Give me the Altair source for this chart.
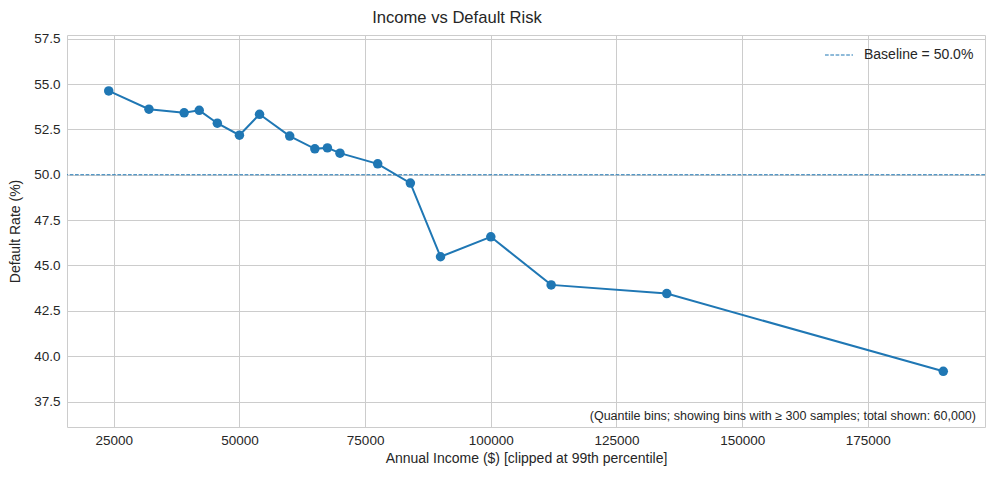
import altair as alt
import pandas as pd

income = [24000, 32000, 39000, 42000, 45600, 50000, 54000, 60000, 65000, 67500,
          70000, 77500, 84000, 90000, 100000, 112000, 135000, 190000]
default_rate = [54.62, 53.61, 53.41, 53.55, 52.84, 52.18, 53.33, 52.13, 51.43, 51.48,
                51.19, 50.60, 49.54, 45.48, 46.58, 43.93, 43.45, 39.17]
baseline = [50.0]
baseline_label = ["Baseline = 50.0%"]
x_ticks = [25000, 50000, 75000, 100000, 125000, 150000, 175000]
y_ticks = [37.5, 40.0, 42.5, 45.0, 47.5, 50.0, 52.5, 55.0, 57.5]
note = "(Quantile bins; showing bins with \u2265 300 samples; total shown: 60,000)"

W, H = 918, 392
BLUE = "#1f77b4"
TXT = "#262626"
FONT = "Liberation Sans"

df = pd.DataFrame({"income": income, "rate": default_rate})
bdf = pd.DataFrame({"y": baseline, "label": baseline_label})

xs = alt.Scale(domain=[15700, 198300], nice=False, zero=False)
ys = alt.Scale(domain=[36.1, 57.7], nice=False, zero=False)

xaxis = alt.Axis(values=x_ticks, format="d", title="Annual Income ($) [clipped at 99th percentile]",
                 grid=True, ticks=False, domain=False, labelPadding=6, titlePadding=5)
yaxis = alt.Axis(values=y_ticks, format=".1f", title="Default Rate (%)",
                 grid=True, ticks=False, domain=False, labelPadding=7, titlePadding=11)

rule = alt.Chart(bdf).mark_rule(strokeDash=[3.7, 1.6], strokeWidth=1.2).encode(
    y=alt.Y("y:Q", scale=ys, axis=yaxis),
    color=alt.Color("label:N", scale=alt.Scale(range=[BLUE]),
                    legend=alt.Legend(title=None, orient="none", legendX=757, legendY=5,
                                      symbolType="stroke", symbolDash=[3.7, 1.6],
                                      symbolStrokeWidth=1.2, symbolSize=784,
                                      labelFontSize=14, labelColor=TXT, labelFont=FONT,
                                      labelOffset=10, padding=0)),
)

line = alt.Chart(df).mark_line(color=BLUE, strokeWidth=2).encode(
    x=alt.X("income:Q", scale=xs, axis=xaxis),
    y=alt.Y("rate:Q", scale=ys, axis=yaxis),
)
pts = alt.Chart(df).mark_circle(color=BLUE, size=90, opacity=1).encode(
    x=alt.X("income:Q", scale=xs),
    y=alt.Y("rate:Q", scale=ys),
)
txt = alt.Chart(pd.DataFrame({"t": [note]})).mark_text(
    align="right", baseline="bottom", fontSize=12.5, color=TXT, font=FONT
).encode(x=alt.value(W - 9), y=alt.value(H - 4), text="t:N")

chart = alt.layer(rule, line, pts, txt).properties(
    width=W, height=H,
    autosize=alt.AutoSizeParams(type="none"),
    padding={"left": 59, "top": 27, "right": 7, "bottom": 45},
    background="white",
    title=alt.TitleParams("Income vs Default Risk", fontSize=16.6, fontWeight="normal",
                          color=TXT, font=FONT, dx=-69, offset=5),
).configure_view(stroke="#cccccc", strokeWidth=1).configure_axis(
    gridColor="#cccccc", gridWidth=1, labelColor=TXT, titleColor=TXT,
    labelFont=FONT, titleFont=FONT, labelFontSize=13.5, titleFontSize=14,
    titleFontWeight="normal",
)

chart.save("out.html", embed_options={"renderer": "svg", "actions": False})
